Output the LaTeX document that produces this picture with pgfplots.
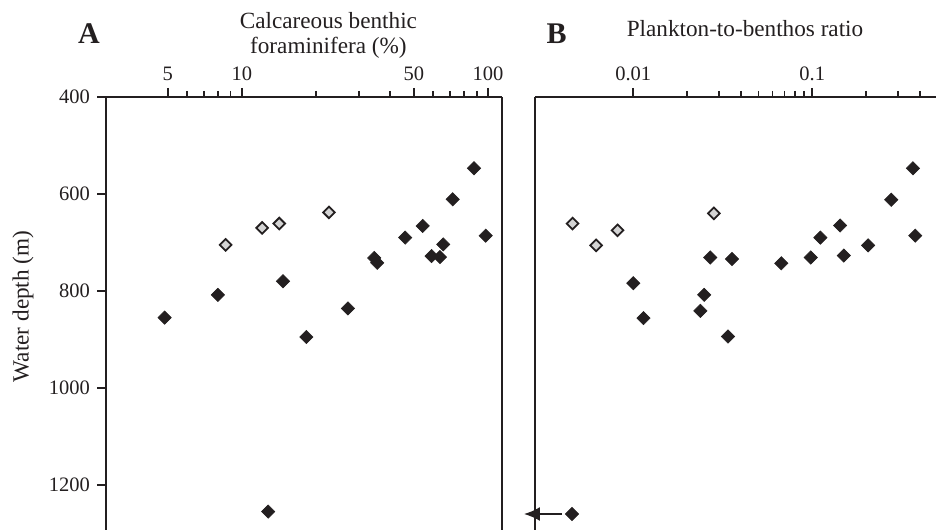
\documentclass[border=0pt]{standalone}
\usepackage{fontspec}
\setmainfont{Liberation Serif}
\usepackage{pgfplots}
\pgfplotsset{compat=1.18}
\usetikzlibrary{arrows.meta}

\definecolor{ink}{HTML}{231F20}
\definecolor{pale}{HTML}{D4D4D4}

% panel A: calcareous benthic foraminifera (%) vs water depth (m)
\pgfplotstableread{
x     d
87.7  547
71.9  611
54.3  666
46.1  690
97.9  686
65.8  704
59.0  728
63.8  730
34.5  732
35.5  742
14.7  780
8.0   808
4.86  855
27.0  836
18.3  895
12.8  1255
}\calcblack
\pgfplotstableread{
x     d
8.6   705
12.1  670
14.2  661
22.6  638
}\calcgrey

% panel B: plankton-to-benthos ratio vs water depth (m)
\pgfplotstableread{
x       d
0.365   547
0.276   612
0.143   665
0.111   690
0.376   686
0.205   706
0.150   727
0.098   731
0.0671  743
0.0269  731
0.0356  734
0.0100  784
0.0249  808
0.0237  841
0.0114  856
0.0338  894
0.00455 1260
}\pbblack
\pgfplotstableread{
x       d
0.00458 661
0.0062  706
0.00817 675
0.0282  640
}\pbgrey

\pgfplotsset{
  every non boxed x axis/.append style={x axis line style={-}},
  every non boxed y axis/.append style={y axis line style={-}},
  depthpanel/.style={
    scale only axis,
    height=216.5pt,
    anchor=south west,
    y dir=reverse,
    ymin=400, ymax=1293,
    axis x line=top,
    axis line style={-, ink, line width=1pt},
    tick align=outside,
    tick style={ink, line width=0.9pt},
    major tick length=4.5pt,
    minor tick length=3pt,
    ticklabel style={font=\fontsize{10.25}{12}\selectfont, text=ink},
    /pgf/number format/assume math mode=true,
    /pgf/number format/1000 sep={},
    clip=false,
  },
  blk/.style={only marks, mark=square*, mark size=2.35pt,
    mark options={rotate=45, fill=ink, draw=ink, line width=0.3pt}},
  gry/.style={only marks, mark=square*, mark size=2.05pt,
    mark options={rotate=45, fill=pale, draw=ink, line width=0.9pt}},
}

\begin{document}
\begin{tikzpicture}
\useasboundingbox (0pt,0pt) rectangle (468pt,265pt);

\begin{semilogxaxis}[depthpanel,
    at={(53pt,0pt)}, width=198pt,
    xmin=2.81, xmax=114,
    xtick={5,10,50,100},
    xticklabels={5,10,50,100},
    minor xtick={6,7,8,9,20,30,40,60,70,80,90},
    axis y line=box,
    ytick={400,600,800,1000,1200},
    ytick pos=left,
]
\addplot[gry] table[x=x, y=d] {\calcgrey};
\addplot[blk] table[x=x, y=d] {\calcblack};
\end{semilogxaxis}

\begin{semilogxaxis}[depthpanel,
    at={(267.5pt,0pt)}, width=200.5pt,
    xmin=0.002825, xmax=0.491,
    xtick={0.01,0.1},
    xticklabels={0.01,0.1},
    minor xtick={0.02,0.03,0.04,0.05,0.06,0.07,0.08,0.09,0.2,0.3,0.4},
    axis y line=left,
    ytick=\empty,
]
\addplot[gry] table[x=x, y=d] {\pbgrey};
\addplot[blk] table[x=x, y=d] {\pbblack};
\draw[ink, line width=1pt, -{Latex[length=8pt, width=7pt]}]
  (axis cs:0.0040,1260) -- (axis cs:0.00245,1260);
\end{semilogxaxis}

% titles and labels
\node[font=\bfseries\fontsize{15}{15}\selectfont, text=ink, anchor=base] at (44.5pt,243pt) {A};
\node[font=\bfseries\fontsize{15}{15}\selectfont, text=ink, anchor=base] at (278.3pt,243.3pt) {B};
\node[font=\fontsize{11.6}{12}\selectfont, text=ink, anchor=base] at (164.2pt,250.8pt) {Calcareous benthic};
\node[font=\fontsize{11.6}{12}\selectfont, text=ink, anchor=base] at (164.2pt,238.4pt) {foraminifera (\%)};
\node[font=\fontsize{11.6}{12}\selectfont, text=ink, anchor=base] at (372.5pt,246.7pt) {Plankton-to-benthos ratio};
\node[font=\fontsize{11.6}{12}\selectfont, text=ink, rotate=90] at (11.5pt,111.8pt) {Water depth (m)};
\end{tikzpicture}
\end{document}
